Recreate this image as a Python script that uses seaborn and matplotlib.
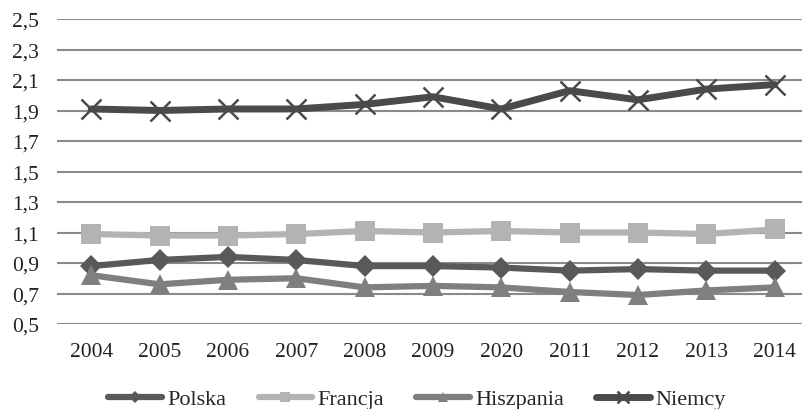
import pandas as pd
import seaborn as sns
import matplotlib.pyplot as plt

# Values
years = ['2004', '2005', '2006', '2007', '2008', '2009', '2020', '2011', '2012', '2013', '2014']
polska = [0.88, 0.92, 0.94, 0.92, 0.88, 0.88, 0.87, 0.85, 0.86, 0.85, 0.85]
francja = [1.09, 1.08, 1.08, 1.09, 1.11, 1.10, 1.11, 1.10, 1.10, 1.09, 1.12]
hiszpania = [0.82, 0.76, 0.79, 0.80, 0.74, 0.75, 0.74, 0.71, 0.69, 0.72, 0.74]
niemcy = [1.91, 1.90, 1.91, 1.91, 1.94, 1.99, 1.91, 2.03, 1.97, 2.04, 2.07]
y_ticks = [0.5, 0.7, 0.9, 1.1, 1.3, 1.5, 1.7, 1.9, 2.1, 2.3, 2.5]

series = {'Polska': polska, 'Francja': francja, 'Hiszpania': hiszpania, 'Niemcy': niemcy}
df = pd.DataFrame([
    {'rok': i, 'kraj': name, 'wartosc': v}
    for name, vals in series.items() for i, v in enumerate(vals)
])

palette = {'Polska': '#595959', 'Francja': '#b3b3b3', 'Hiszpania': '#7f7f7f', 'Niemcy': '#4a4a4a'}
markers = {'Polska': 'D', 'Francja': 's', 'Hiszpania': '^', 'Niemcy': 'x'}
msizes = {'Polska': 11, 'Francja': 14, 'Hiszpania': 14, 'Niemcy': 15}

sns.set_style('white')
plt.rcParams['font.family'] = ['Liberation Serif', 'DejaVu Serif']

fig = plt.figure(figsize=(8.02, 4.10), dpi=100)
ax = fig.add_axes([57 / 802, 1 - 325 / 410, 745 / 802, 305 / 410])

for gy in y_ticks:
    ax.axhline(gy, color='#8a8a8a', lw=1.5, zorder=0)

for name in series:
    sub = df[df['kraj'] == name]
    sns.lineplot(data=sub, x='rok', y='wartosc', ax=ax, color=palette[name],
                 lw=5 if name == 'Niemcy' else 4.5, marker=markers[name], markersize=msizes[name],
                 markeredgewidth=1.8 if name == 'Niemcy' else 0,
                 markeredgecolor=palette[name], label=name, legend=False)

ax.set_xlim(-0.5, 10.4)
ax.set_ylim(0.5, 2.5)
ax.set_xticks(range(len(years)))
ax.set_xticklabels(years)
ax.set_yticks(y_ticks)
ax.set_yticklabels([f'{t:.1f}'.replace('.', ',') for t in y_ticks])
ax.tick_params(axis='both', length=0, labelsize=15.5, colors='#222222')
ax.tick_params(axis='x', pad=13)
ax.tick_params(axis='y', pad=13)
ax.set_xlabel('')
ax.set_ylabel('')
for s in ax.spines.values():
    s.set_visible(False)

handles, labels = ax.get_legend_handles_labels()
fig.legend(handles, labels, loc='center', bbox_to_anchor=(417 / 802, 1 - 400 / 410), ncol=4,
           frameon=False, fontsize=16, handlelength=2.4, columnspacing=1.45,
           handletextpad=0.25, markerscale=0.55)

fig.savefig('out.png', dpi=100)
